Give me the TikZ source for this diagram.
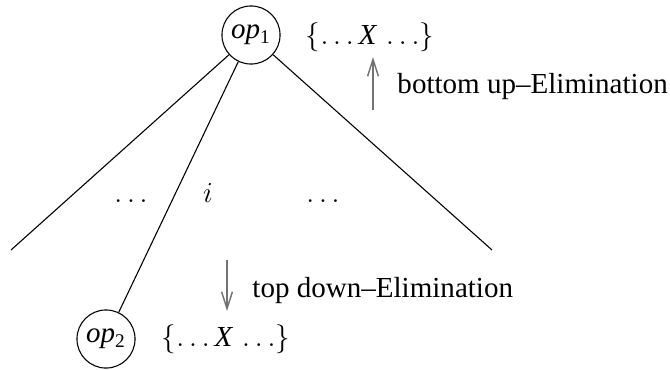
\documentclass[12pt,tikz,border=0pt]{standalone}
\usepackage{fontspec}
\setmainfont{Liberation Serif}
\usetikzlibrary{arrows.meta}
\tikzset{
  opnode/.style={circle,draw,line width=0.45pt,minimum size=24pt,inner sep=0pt},
  lbl/.style={inner sep=0pt},
  edge/.style={line width=0.45pt},
  flow/.style={draw=black!55,line width=0.6pt,-{Straight Barb[length=7pt,width=4.5pt,line width=0.6pt]}}
}
\begin{document}
\begin{tikzpicture}[x=0.4132pt,y=0.4132pt]
\useasboundingbox (0,0) rectangle (670,369);
\node[opnode] (op1) at (251,334) {\textit{op}\textsubscript{1}};
\node[opnode] (op2) at (106,30) {\textit{op}\textsubscript{2}};
\coordinate (L) at (11,119);
\coordinate (R) at (492,119);
\draw[edge] (op1) -- (L);
\draw[edge] (op1) -- (R);
\draw[edge] (op1) -- (op2);
\node[lbl,anchor=base] (d1) at (131,167) {$\ldots$};
\node[lbl,anchor=base] (iv) at (208,167) {$i$};
\node[lbl,anchor=base] (d2) at (323,167) {$\ldots$};
\node[lbl] (s1) at (370,332) {$\{\ldots \textit{X}\,\ldots\}$};
\node[lbl] (s2) at (226,30) {$\{\ldots \textit{X}\,\ldots\}$};
\coordinate (ua) at (373,259);
\coordinate (ub) at (373,312);
\draw[flow] (ua) -- (ub);
\node[lbl,anchor=base west] (bu) at (397,276) {bottom up--Elimination};
\coordinate (da) at (227,109);
\coordinate (db) at (227,58);
\draw[flow] (da) -- (db);
\node[lbl,anchor=base west] (td) at (252,72) {top down--Elimination};
\end{tikzpicture}
\end{document}
